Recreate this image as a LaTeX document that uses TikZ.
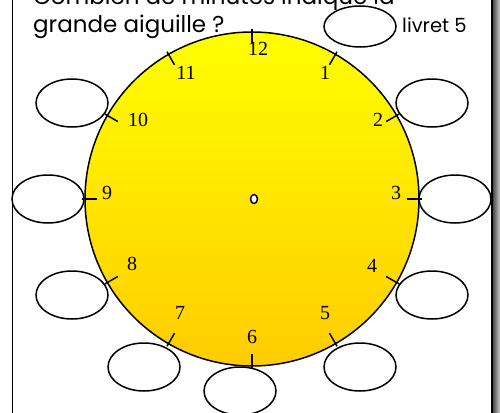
\documentclass[tikz,border=0pt]{standalone}
\usepackage{fontspec}
\setmainfont{Liberation Serif}
\newfontfamily\titrefont{Poppins}
\usetikzlibrary{shapes.geometric}
\definecolor{jaune}{RGB}{255,255,0}
\definecolor{orjaune}{RGB}{255,204,0}

\begin{document}
\begin{tikzpicture}[
  x=1pt, y=-1pt,
  cadre/.style={draw, line width=1.5pt, fill=white},
  bulle/.style={draw, ellipse, fill=white, line width=1.5pt,
                minimum width=72pt, minimum height=48pt, inner sep=0pt},
  heure/.style={font=\fontsize{20}{22}\selectfont, inner sep=0pt},
  titre/.style={font=\titrefont\fontsize{23}{26}\selectfont, anchor=base west, inner sep=0pt},
  trait/.style={line width=1.5pt}
]
\useasboundingbox (0,0) rectangle (500,412);
\fill[white] (0,0) rectangle (500,412);
\fill[left color=black!70, right color=black!20] (493,-20) rectangle (500,440);
\draw[cadre] (12.5,-20) rectangle (492,440);

\node[draw, circle, trait, minimum size=334pt, inner sep=0pt,
      top color=jaune, bottom color=orjaune] (cadran) at (252,199) {};

\node[bulle, minimum height=41pt] (b1) at (360,26.5) {};
\foreach \n/\x/\y in {2/432/103, 3/455/199, 4/432/295, 5/360/367,
                      6/240/391, 7/144/367, 8/72/295, 9/48/199, 10/72/103}
  \node[bulle] (b\n) at (\x,\y) {};

\node[titre] (ligne1) at (33,5) {Combien de minutes indique la};
\node[titre] (ligne2) at (33,33) {grande aiguille ?};
\node[titre, font=\titrefont\fontsize{19.5}{22}\selectfont] (livret) at (402,33) {livret 5};

\begin{scope}[shift={(cadran.center)}]
  \foreach \h in {1,...,12}
    \draw[trait] (\h*30-90:155) -- (\h*30-90:170);
\end{scope}

\foreach \h/\x/\y in {12/258/49, 1/325/73, 2/378/120, 3/396/193, 4/372/266, 5/325/313,
                      6/252/337, 7/180/313, 8/132/264, 9/107/193, 10/138/120, 11/186/73}
  \node[heure] (h\h) at (\x,\y) {\h};

\node[draw, ellipse, fill=white, trait, minimum width=7pt, minimum height=9pt, inner sep=0pt] (axe) at (254,199) {};
\end{tikzpicture}
\end{document}
